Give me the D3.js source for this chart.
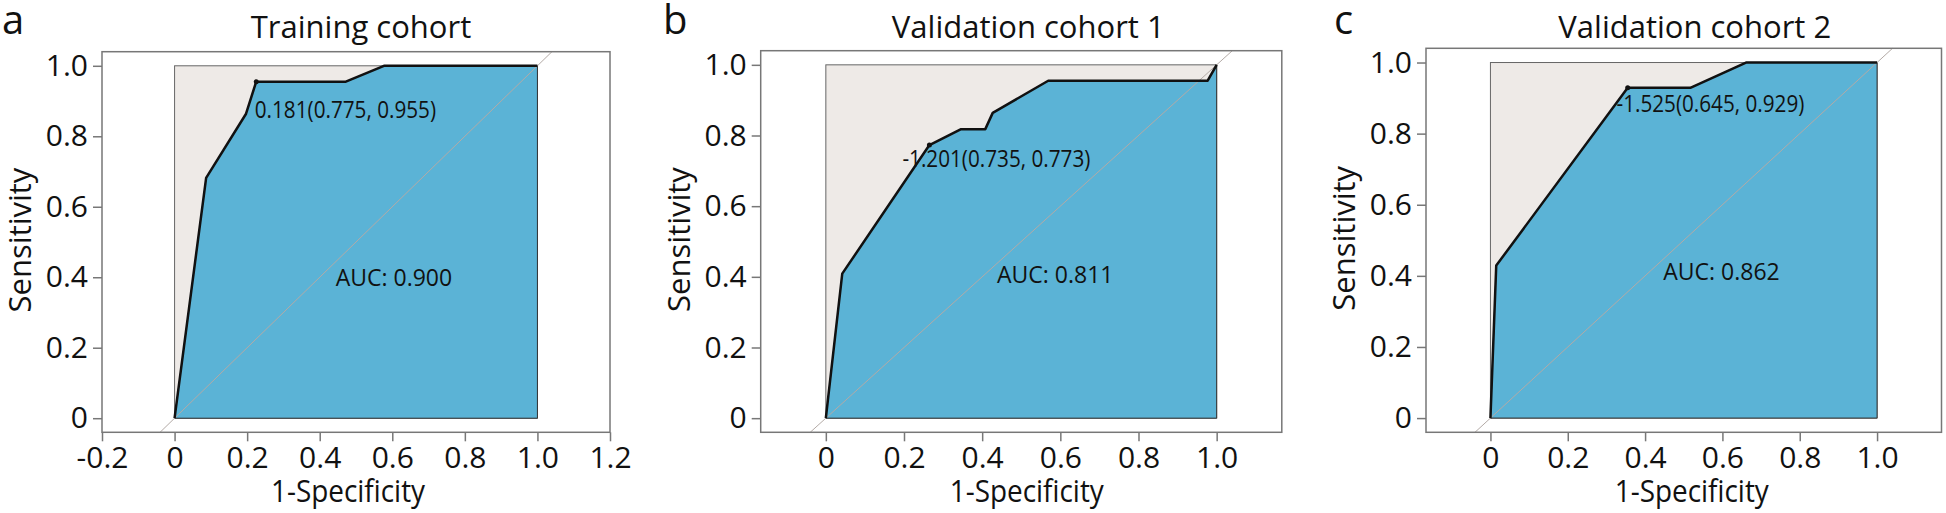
<!DOCTYPE html>
<html>
<head>
<meta charset="utf-8">
<script src="https://cdn.jsdelivr.net/npm/d3@7/dist/d3.min.js"></script>
<style>
  body { margin: 0; background: #fff; }
  text { font-family: "Open Sans", "Noto Sans", sans-serif; fill: #111; }
</style>
</head>
<body>
<div id="my_dataviz"></div>
<script>
var width = 1946
var height = 513

// panel letters and titles
var letters = ["a", "b", "c"]
var titles = ["Training cohort", "Validation cohort 1", "Validation cohort 2"]

// ROC curves: 1-specificity and sensitivity
var trainFpr = [0, 0.087, 0.197, 0.225, 0.472, 0.577, 1]
var trainTpr = [0, 0.682, 0.864, 0.955, 0.955, 1, 1]
var valid1Fpr = [0, 0.042, 0.265, 0.346, 0.408, 0.427, 0.569, 0.977, 1]
var valid1Tpr = [0, 0.409, 0.773, 0.818, 0.818, 0.864, 0.955, 0.955, 1]
var valid2Fpr = [0, 0.015, 0.355, 0.517, 0.661, 1]
var valid2Tpr = [0, 0.429, 0.929, 0.929, 1, 1]

// AUC and best cut-off points
var aucValues = [0.900, 0.811, 0.862]
var cutLabels = ["0.181(0.775, 0.955)", "-1.201(0.735, 0.773)", "-1.525(0.645, 0.929)"]
var cutFpr = [0.225, 0.265, 0.355]
var cutTpr = [0.955, 0.773, 0.929]

// tick values
var xTicksA = [-0.2, 0, 0.2, 0.4, 0.6, 0.8, 1.0, 1.2]
var xTicksB = [0, 0.2, 0.4, 0.6, 0.8, 1.0]
var yTicks = [0, 0.2, 0.4, 0.6, 0.8, 1.0]

var fprs = [trainFpr, valid1Fpr, valid2Fpr]
var tprs = [trainTpr, valid1Tpr, valid2Tpr]
var xTicks = [xTicksA, xTicksB, xTicksB]

// layout of each panel (pixels)
var layout = [
    { left: 102, right: 610, top: 51.7, xMin: -0.2, xMax: 1.2, letterX: 2, titleDx: 5, xLabDx: -8, auc: [0.444, 0.375], cut: [0.221, 0.851] },
    { left: 760.7, right: 1281.8, top: 50.7, xMin: -1 / 6, xMax: 7 / 6, letterX: 663, titleDx: 7, xLabDx: 5.5, auc: [0.438, 0.383], cut: [0.196, 0.712] },
    { left: 1426, right: 1941.5, top: 48.3, xMin: -1 / 6, xMax: 7 / 6, letterX: 1334, titleDx: 11, xLabDx: 8, auc: [0.447, 0.387], cut: [0.326, 0.861] }
]
var bottom = 432.3

var svg = d3.select("#my_dataviz")
    .append("svg")
    .attr("width", width)
    .attr("height", height)

// text with optional horizontal squeeze
function addText(g, x, y, str, size, anchor, sx, rot) {
    return g.append("text")
        .attr("transform", "translate(" + x + "," + y + ")" + (rot ? " rotate(" + rot + ")" : "") + " scale(" + (sx || 1) + ",1)")
        .attr("text-anchor", anchor)
        .style("font-size", size + "px")
        .text(str)
}

var fmt = function (d) { return d === 0 ? "0" : d.toFixed(1) }

layout.forEach(function (L, i) {
    var g = svg.append("g")

    var x = d3.scaleLinear().domain([L.xMin, L.xMax]).range([L.left, L.right])
    var y = d3.scaleLinear().domain([-0.04, 1.04]).range([bottom, L.top])

    var pts = fprs[i].map(function (f, k) { return [f, tprs[i][k]] })

    // grey unit square
    g.append("rect")
        .attr("x", x(0)).attr("y", y(1))
        .attr("width", x(1) - x(0)).attr("height", y(0) - y(1))
        .attr("fill", "#eeeae7")
        .attr("stroke", "#666")
        .attr("stroke-width", 1)

    // area under the curve
    var area = pts.concat([[1, 0], [0, 0]])
    g.append("path")
        .attr("d", d3.line().x(function (d) { return x(d[0]) }).y(function (d) { return y(d[1]) })(area) + "Z")
        .attr("fill", "#5bb3d6")
        .attr("stroke", "#333")
        .attr("stroke-width", 1)

    // reference diagonal
    g.append("line")
        .attr("x1", x(-0.04)).attr("y1", y(-0.04))
        .attr("x2", x(1.04)).attr("y2", y(1.04))
        .attr("stroke", "#b3aaa6")
        .attr("stroke-width", 1)

    // ROC curve
    g.append("path")
        .attr("d", d3.line().x(function (d) { return x(d[0]) }).y(function (d) { return y(d[1]) })(pts))
        .attr("fill", "none")
        .attr("stroke", "#111")
        .attr("stroke-width", 2.5)
        .attr("stroke-linejoin", "round")

    g.append("circle")
        .attr("cx", x(cutFpr[i])).attr("cy", y(cutTpr[i]))
        .attr("r", 2.5)
        .attr("fill", "#111")

    // axes
    var xa = g.append("g")
        .attr("transform", "translate(0," + bottom + ")")
        .call(d3.axisBottom(x).tickValues(xTicks[i]).tickSize(9).tickPadding(5).tickFormat(fmt))
    var ya = g.append("g")
        .attr("transform", "translate(" + L.left + ",0)")
        .call(d3.axisLeft(y).tickValues(yTicks).tickSize(9).tickPadding(5).tickFormat(fmt))
    ;[xa, ya].forEach(function (a) {
        a.select(".domain").remove()
        a.selectAll("line").attr("stroke", "#777").attr("stroke-width", 1.5)
        a.selectAll("text").style("font-size", "30px").attr("fill", "#111")
            .style("font-family", "'Open Sans', 'Noto Sans', sans-serif")
    })

    // frame
    g.append("rect")
        .attr("x", L.left).attr("y", L.top)
        .attr("width", L.right - L.left).attr("height", bottom - L.top)
        .attr("fill", "none")
        .attr("stroke", "#777")
        .attr("stroke-width", 1.5)

    // annotations
    addText(g, x(L.cut[0]), y(L.cut[1]), cutLabels[i], 23, "start", 0.9)
    addText(g, x(L.auc[0]), y(L.auc[1]), "AUC: " + aucValues[i].toFixed(3), 23, "start")

    // titles and labels
    var cx = (x(0) + x(1)) / 2
    addText(g, cx + L.titleDx, 38, titles[i], 31, "middle")
    addText(g, cx + L.xLabDx, 502, "1-Specificity", 31, "middle", 0.9)
    addText(g, L.left - 71, (L.top + bottom) / 2 - 2, "Sensitivity", 31, "middle", 1, -90)
    addText(g, L.letterX, 34, letters[i], 40, "start")
})
</script>
</body>
</html>
